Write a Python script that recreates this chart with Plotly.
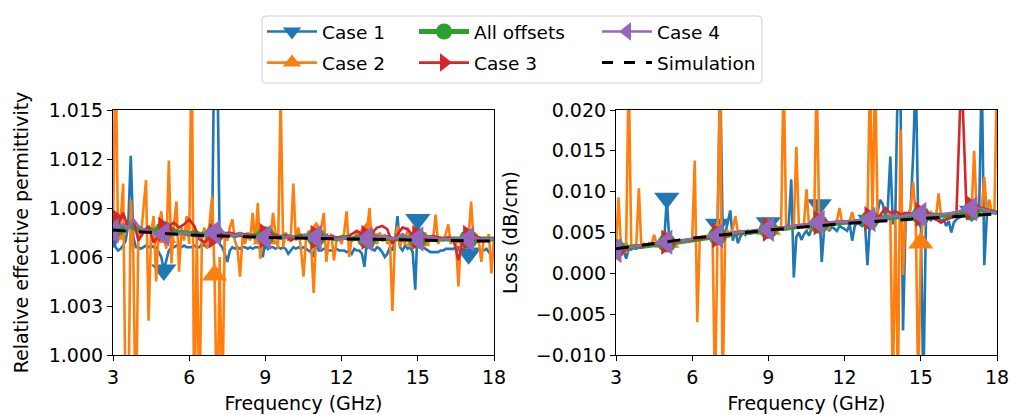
import numpy as np
import plotly.graph_objects as go

# ---------------- data ----------------
freq_fine = np.round(np.arange(30, 181) / 10.0, 1)      # 3.0 .. 18.0, step 0.1
freq_coarse = np.round(np.arange(15, 91) / 5.0, 1)      # 3.0 .. 18.0, step 0.2
sim_freq = [3, 6, 9, 12, 15, 18]

case1_eps = [
    1.0072, 1.0066, 1.0064, 1.0065, 1.0067, 1.0070, 1.0080, 1.0122, 1.0072, 1.0066,
    1.0066, 1.0065, 1.0066, 1.0067, 1.0066, 1.0067, 1.0066, 1.0066, 1.0063, 1.0060,
    1.0052, 1.0058, 1.0064, 1.0066, 1.0066, 1.0067, 1.0066, 1.0066, 1.0067, 1.0066,
    1.0066, 1.0066, 1.0067, 1.0066, 1.0066, 1.0068, 1.0067, 1.0066, 1.0067, 1.0070,
    1.0210, 1.0190, 1.0068, 1.0066, 1.0062, 1.0057, 1.0064, 1.0066, 1.0065, 1.0066,
    1.0065, 1.0066, 1.0066, 1.0065, 1.0066, 1.0065, 1.0066, 1.0066, 1.0065, 1.0060,
    1.0071, 1.0065, 1.0066, 1.0066, 1.0065, 1.0066, 1.0065, 1.0066, 1.0065, 1.0062,
    1.0064, 1.0066, 1.0065, 1.0066, 1.0065, 1.0066, 1.0065, 1.0064, 1.0063, 1.0060,
    1.0071, 1.0064, 1.0064, 1.0065, 1.0065, 1.0064, 1.0064, 1.0064, 1.0065, 1.0064,
    1.0064, 1.0064, 1.0063, 1.0064, 1.0062, 1.0065, 1.0064, 1.0064, 1.0062, 1.0054,
    1.0071, 1.0066, 1.0065, 1.0064, 1.0066, 1.0065, 1.0063, 1.0060, 1.0062, 1.0066,
    1.0064, 1.0070, 1.0085, 1.0066, 1.0064, 1.0067, 1.0065, 1.0066, 1.0063, 1.0040,
    1.0083, 1.0068, 1.0066, 1.0065, 1.0064, 1.0063, 1.0063, 1.0063, 1.0063, 1.0064,
    1.0064, 1.0065, 1.0065, 1.0065, 1.0065, 1.0066, 1.0066, 1.0065, 1.0064, 1.0063,
    1.0062, 1.0064, 1.0065, 1.0065, 1.0065, 1.0064, 1.0064, 1.0065, 1.0063, 1.0061,
    1.0060,
]

case2_eps = [
    1.0074, 1.0190, 1.0070, 1.0082, 1.0105, 0.9960, 0.9955, 1.0095, 1.0062, 0.9950,
    1.0078, 1.0072, 1.0090, 1.0107, 1.0021, 1.0075, 1.0085, 1.0045, 1.0077, 1.0088,
    1.0072, 1.0065, 1.0119, 1.0056, 1.0080, 1.0094, 1.0051, 1.0078, 1.0070, 1.0085,
    1.0068, 1.0200, 0.9950, 1.0075, 0.9960, 1.0072, 1.0078, 1.0065, 1.0080, 1.0097,
    1.0049, 0.9950, 1.0060, 0.9960, 1.0075, 1.0070, 1.0078, 1.0083, 1.0070, 1.0065,
    1.0048, 1.0072, 1.0068, 1.0075, 1.0070, 1.0087, 1.0068, 1.0093, 1.0059, 1.0072,
    1.0071, 1.0075, 1.0070, 1.0087, 1.0074, 1.0065, 1.0160, 1.0066, 1.0075, 1.0070,
    1.0072, 1.0105, 1.0070, 1.0078, 1.0065, 1.0048, 1.0072, 1.0076, 1.0068, 1.0038,
    1.0075, 1.0070, 1.0078, 1.0087, 1.0057, 1.0072, 1.0074, 1.0058, 1.0070, 1.0072,
    1.0068, 1.0075, 1.0088, 1.0060, 1.0072, 1.0070, 1.0076, 1.0068, 1.0072, 1.0075,
    1.0075, 1.0090, 1.0065, 1.0072, 1.0068, 1.0075, 1.0070, 1.0074, 1.0068, 1.0072,
    1.0027, 1.0070, 1.0079, 1.0066, 1.0072, 1.0068, 1.0078, 1.0066, 1.0072, 1.0068,
    1.0070, 1.0074, 1.0066, 1.0075, 1.0068, 1.0072, 1.0070, 1.0086, 1.0068, 1.0072,
    1.0070, 1.0074, 1.0080, 1.0068, 1.0072, 1.0070, 1.0042, 1.0072, 1.0070, 1.0075,
    1.0072, 1.0094, 1.0068, 1.0074, 1.0070, 1.0057, 1.0072, 1.0070, 1.0074, 1.0050,
    1.0072,
]

all_eps = [
    1.0077, 1.0079, 1.0078, 1.0080, 1.0078, 1.0077, 1.0076, 1.0077, 1.0076, 1.0076,
    1.0076, 1.0077, 1.0076, 1.0075, 1.0075, 1.0074, 1.0075, 1.0074, 1.0074, 1.0074,
    1.0074, 1.0075, 1.0074, 1.0074, 1.0073, 1.0074, 1.0073, 1.0073, 1.0073, 1.0073,
    1.0073, 1.0073, 1.0073, 1.0072, 1.0073, 1.0072, 1.0072, 1.0073, 1.0072, 1.0072,
    1.0072, 1.0072, 1.0072, 1.0072, 1.0071, 1.0072, 1.0072, 1.0071, 1.0072, 1.0071,
    1.0071, 1.0072, 1.0072, 1.0071, 1.0072, 1.0071, 1.0071, 1.0072, 1.0071, 1.0071,
    1.0071, 1.0071, 1.0072, 1.0071, 1.0071, 1.0071, 1.0071, 1.0071, 1.0071, 1.0071,
    1.0071, 1.0071, 1.0071, 1.0071, 1.0071, 1.0071,
]

case3_eps = [
    1.0084, 1.0080, 1.0087, 1.0078, 1.0083, 1.0070, 1.0075, 1.0079, 1.0069, 1.0073,
    1.0077, 1.0079, 1.0081, 1.0078, 1.0080, 1.0083, 1.0079, 1.0071, 1.0069, 1.0072,
    1.0073, 1.0076, 1.0074, 1.0075, 1.0074, 1.0073, 1.0074, 1.0073, 1.0073, 1.0072,
    1.0073, 1.0074, 1.0073, 1.0072, 1.0073, 1.0070, 1.0072, 1.0073, 1.0072, 1.0073,
    1.0072, 1.0073, 1.0072, 1.0073, 1.0072, 1.0071, 1.0072, 1.0074, 1.0076, 1.0074,
    1.0072, 1.0075, 1.0078, 1.0079, 1.0077, 1.0068, 1.0074, 1.0078, 1.0077, 1.0073,
    1.0072, 1.0073, 1.0072, 1.0073, 1.0072, 1.0071, 1.0072, 1.0071, 1.0058, 1.0072,
    1.0072, 1.0073, 1.0072, 1.0071, 1.0071, 1.0071,
]

case4_eps = [
    1.0076, 1.0079, 1.0080, 1.0078, 1.0083, 1.0079, 1.0077, 1.0076, 1.0075, 1.0074,
    1.0074, 1.0075, 1.0074, 1.0074, 1.0075, 1.0074, 1.0073, 1.0072, 1.0073, 1.0074,
    1.0075, 1.0077, 1.0074, 1.0074, 1.0073, 1.0074, 1.0073, 1.0073, 1.0072, 1.0072,
    1.0072, 1.0073, 1.0072, 1.0073, 1.0072, 1.0073, 1.0072, 1.0072, 1.0073, 1.0072,
    1.0072, 1.0072, 1.0073, 1.0072, 1.0071, 1.0071, 1.0072, 1.0071, 1.0072, 1.0071,
    1.0071, 1.0073, 1.0072, 1.0073, 1.0072, 1.0071, 1.0072, 1.0074, 1.0072, 1.0071,
    1.0071, 1.0073, 1.0072, 1.0072, 1.0071, 1.0071, 1.0071, 1.0071, 1.0071, 1.0071,
    1.0071, 1.0072, 1.0071, 1.0071, 1.0071, 1.0071,
]

sim_eps = [1.00765, 1.00735, 1.00720, 1.00710, 1.00703, 1.00697]

case1_loss = [
    0.0030, 0.0028, 0.0022, 0.0028, 0.0018, 0.0030, 0.0029, 0.0031, 0.0030, 0.0032,
    0.0032, 0.0033, 0.0034, 0.0034, 0.0035, 0.0035, 0.0036, 0.0036, 0.0037, 0.0040,
    0.0092, 0.0040, 0.0037, 0.0038, 0.0039, 0.0038, 0.0039, 0.0039, 0.0040, 0.0040,
    0.0041, 0.0042, 0.0042, 0.0043, 0.0043, 0.0044, 0.0044, 0.0045, 0.0046, 0.0050,
    0.0060, 0.0250, 0.0050, 0.0048, 0.0065, 0.0077, 0.0040, 0.0052, 0.0037, 0.0045,
    0.0050, 0.0047, 0.0052, 0.0049, 0.0051, 0.0050, 0.0052, 0.0051, 0.0050, 0.0052,
    0.0062, 0.0054, 0.0052, 0.0055, 0.0053, 0.0055, 0.0054, 0.0058, 0.0060, 0.0115,
    -0.0005, 0.0045, 0.0050, 0.0041, 0.0048, 0.0052, 0.0046, 0.0055, 0.0060, 0.0058,
    0.0084, 0.0014, 0.0056, 0.0058, 0.0052, 0.0057, 0.0055, 0.0052, 0.0058, 0.0056,
    0.0055, 0.0052, 0.0060, 0.0040, 0.0058, 0.0062, 0.0060, 0.0058, 0.0062, 0.0010,
    0.0065, 0.0062, 0.0068, 0.0075, 0.0090, 0.0085, 0.0070, 0.0080, 0.0143, 0.0060,
    0.0075, 0.0250, 0.0220, -0.0070, 0.0062, 0.0070, 0.0080, 0.0145, 0.0250, 0.0060,
    0.0068, -0.0150, 0.0062, 0.0068, 0.0065, 0.0070, 0.0066, 0.0068, 0.0064, 0.0066,
    0.0058, 0.0064, 0.0050, 0.0062, 0.0066, 0.0068, 0.0070, 0.0072, 0.0074, 0.0075,
    0.0076, 0.0078, 0.0076, 0.0080, 0.0250, 0.0010, 0.0070, 0.0074, 0.0076, 0.0075,
    0.0074,
]

case2_loss = [
    0.0032, 0.0093, 0.0030, 0.0032, 0.0036, 0.0250, 0.0034, 0.0033, 0.0036, 0.0104,
    0.0030, 0.0036, 0.0034, 0.0037, 0.0035, 0.0047, 0.0036, 0.0038, 0.0040, 0.0037,
    0.0038, 0.0042, 0.0036, 0.0040, 0.0038, 0.0041, 0.0039, 0.0040, 0.0041, 0.0040,
    0.0042, 0.0138, -0.0060, 0.0043, 0.0045, 0.0044, 0.0046, 0.0045, 0.0047, -0.0150,
    0.0050, 0.0250, -0.0150, 0.0050, 0.0052, 0.0048, 0.0055, 0.0070, 0.0050, 0.0052,
    0.0050, 0.0052, 0.0051, 0.0050, 0.0052, 0.0053, 0.0051, 0.0052, 0.0053, 0.0052,
    0.0054, 0.0053, 0.0055, 0.0054, 0.0055, 0.0056, 0.0250, 0.0056, 0.0055, 0.0057,
    0.0056, 0.0155, 0.0058, 0.0057, 0.0060, 0.0103, 0.0058, 0.0060, 0.0059, 0.0250,
    0.0060, 0.0062, 0.0061, 0.0060, 0.0062, 0.0063, 0.0062, 0.0065, 0.0080, 0.0062,
    0.0063, 0.0062, 0.0064, 0.0075, 0.0062, 0.0064, 0.0063, 0.0065, 0.0064, 0.0066,
    0.0250, 0.0065, 0.0250, 0.0068, 0.0066, 0.0070, 0.0068, 0.0072, 0.0070, -0.0150,
    0.0070, -0.0150, 0.0176, -0.0002, 0.0072, 0.0065, 0.0080, 0.0112, 0.0070, -0.0150,
    0.0037, 0.0070, 0.0072, 0.0068, 0.0075, 0.0072, 0.0070, 0.0098, 0.0070, 0.0072,
    0.0068, 0.0072, 0.0070, 0.0074, 0.0072, 0.0070, 0.0073, 0.0075, 0.0074, 0.0078,
    0.0076, 0.0150, 0.0077, 0.0076, 0.0078, 0.0118, 0.0075, 0.0090, 0.0074, 0.0076,
    0.0250,
]

all_loss = [
    0.0030, 0.0031, 0.0032, 0.0032, 0.0033, 0.0033, 0.0034, 0.0035, 0.0035, 0.0036,
    0.0037, 0.0038, 0.0038, 0.0039, 0.0040, 0.0041, 0.0042, 0.0043, 0.0044, 0.0045,
    0.0046, 0.0046, 0.0047, 0.0048, 0.0049, 0.0050, 0.0050, 0.0051, 0.0052, 0.0053,
    0.0054, 0.0054, 0.0055, 0.0055, 0.0056, 0.0057, 0.0058, 0.0058, 0.0059, 0.0060,
    0.0060, 0.0060, 0.0061, 0.0061, 0.0062, 0.0062, 0.0062, 0.0063, 0.0064, 0.0065,
    0.0066, 0.0066, 0.0067, 0.0068, 0.0068, 0.0069, 0.0069, 0.0070, 0.0071, 0.0071,
    0.0071, 0.0071, 0.0071, 0.0070, 0.0070, 0.0070, 0.0071, 0.0072, 0.0074, 0.0075,
    0.0076, 0.0077, 0.0078, 0.0077, 0.0075, 0.0074,
]

case3_loss = [
    0.0028, 0.0030, 0.0031, 0.0032, 0.0033, 0.0033, 0.0034, 0.0035, 0.0036, 0.0036,
    0.0038, 0.0038, 0.0039, 0.0040, 0.0041, 0.0041, 0.0042, 0.0043, 0.0044, 0.0045,
    0.0046, 0.0047, 0.0047, 0.0048, 0.0049, 0.0050, 0.0051, 0.0051, 0.0052, 0.0053,
    0.0054, 0.0054, 0.0055, 0.0056, 0.0057, 0.0057, 0.0058, 0.0059, 0.0060, 0.0061,
    0.0062, 0.0061, 0.0062, 0.0062, 0.0063, 0.0063, 0.0063, 0.0064, 0.0065, 0.0066,
    0.0067, 0.0068, 0.0071, 0.0080, 0.0074, 0.0076, 0.0072, 0.0074, 0.0073, 0.0072,
    0.0072, 0.0070, 0.0068, 0.0066, 0.0062, 0.0066, 0.0068, 0.0070, 0.0250, 0.0078,
    0.0080, 0.0079, 0.0080, 0.0078, 0.0076, 0.0074,
]

case4_loss = [
    0.0028, 0.0029, 0.0031, 0.0032, 0.0033, 0.0034, 0.0034, 0.0035, 0.0036, 0.0037,
    0.0038, 0.0039, 0.0039, 0.0040, 0.0041, 0.0042, 0.0043, 0.0044, 0.0045, 0.0046,
    0.0046, 0.0047, 0.0048, 0.0049, 0.0050, 0.0051, 0.0051, 0.0052, 0.0053, 0.0054,
    0.0054, 0.0055, 0.0056, 0.0056, 0.0057, 0.0058, 0.0059, 0.0059, 0.0060, 0.0061,
    0.0062, 0.0062, 0.0062, 0.0063, 0.0063, 0.0063, 0.0064, 0.0064, 0.0065, 0.0066,
    0.0066, 0.0067, 0.0068, 0.0068, 0.0069, 0.0070, 0.0070, 0.0071, 0.0072, 0.0072,
    0.0072, 0.0071, 0.0071, 0.0071, 0.0072, 0.0073, 0.0074, 0.0075, 0.0077, 0.0078,
    0.0079, 0.0080, 0.0079, 0.0077, 0.0075, 0.0073,
]

sim_loss = [0.0030, 0.0043, 0.0053, 0.0061, 0.0067, 0.00727]

eps_ticks = [1.000, 1.003, 1.006, 1.009, 1.012, 1.015]
loss_ticks = [-0.010, -0.005, 0.000, 0.005, 0.010, 0.015, 0.020]
freq_ticks = [3, 6, 9, 12, 15, 18]

for arr in (case1_eps, case2_eps, case1_loss, case2_loss):
    assert len(arr) == len(freq_fine), len(arr)
for arr in (all_eps, case3_eps, case4_eps, all_loss, case3_loss, case4_loss):
    assert len(arr) == len(freq_coarse), len(arr)

# ---------------- styling ----------------
W, H = 1021, 415
FONT = "DejaVu Sans"
C_BLUE, C_ORANGE, C_GREEN, C_RED, C_PURPLE = "#1f77b4", "#ff7f0e", "#2ca02c", "#d62728", "#9467bd"

series = [
    # name, color, symbol, marker size, line width, legend, grid, eps, loss, markevery
    ("Case 1", C_BLUE, "triangle-down", 22, 2.6, "legend", freq_fine, case1_eps, case1_loss, 20),
    ("Case 2", C_ORANGE, "triangle-up", 22, 2.6, "legend", freq_fine, case2_eps, case2_loss, 20),
    ("All offsets", C_GREEN, "circle", 19, 5.0, "legend2", freq_coarse, all_eps, all_loss, 10),
    ("Case 3", C_RED, "triangle-right", 22, 2.6, "legend2", freq_coarse, case3_eps, case3_loss, 10),
    ("Case 4", C_PURPLE, "triangle-left", 22, 2.6, "legend3", freq_coarse, case4_eps, case4_loss, 10),
]

fig = go.Figure()
for k, (name, col, sym, msz, lw, leg, fx, ye, yl, every) in enumerate(series):
    fx = np.asarray(fx)
    for ax_x, ax_y, yy in (("x", "y", ye), ("x2", "y2", yl)):
        yy = np.asarray(yy)
        fig.add_trace(go.Scatter(x=fx, y=yy, mode="lines", xaxis=ax_x, yaxis=ax_y,
                                 line=dict(color=col, width=lw), showlegend=False,
                                 hoverinfo="skip"))
        fig.add_trace(go.Scatter(x=fx[::every], y=yy[::every], mode="markers",
                                 xaxis=ax_x, yaxis=ax_y,
                                 marker=dict(color=col, symbol=sym, size=msz, line=dict(width=0)),
                                 showlegend=False, hoverinfo="skip"))
    # legend entry
    fig.add_trace(go.Scatter(x=[None], y=[None], mode="lines+markers", name=name,
                             line=dict(color=col, width=lw), legendgroup=f"g{k}",
                             marker=dict(color=col, symbol=sym, size=16),
                             legend=leg, showlegend=True))

for ax_x, ax_y, yy in (("x", "y", sim_eps), ("x2", "y2", sim_loss)):
    fig.add_trace(go.Scatter(x=sim_freq, y=yy, mode="lines", xaxis=ax_x, yaxis=ax_y,
                             line=dict(color="black", width=3, dash="13px,13px"),
                             showlegend=False, hoverinfo="skip"))
fig.add_trace(go.Scatter(x=[None], y=[None], mode="lines", name="Simulation",
                         line=dict(color="black", width=3, dash="11px,11px"),
                         legend="legend3", legendgroup="g9", showlegend=True))

# ---------------- layout ----------------
def px_x(p):
    return p / W

def px_y(p):
    return 1 - p / H

plot_top, plot_bot = 110, 355
left_dom = [px_x(113), px_x(494)]
right_dom = [px_x(616), px_x(997)]
y_dom = [px_y(plot_bot), px_y(plot_top)]

axis_common = dict(showline=True, linecolor="black", linewidth=1.2, mirror=True,
                   ticks="outside", ticklen=5, tickwidth=1.2, tickcolor="black",
                   showgrid=False, zeroline=False, automargin=False,
                   tickfont=dict(family=FONT, size=19, color="black"))

fig.update_layout(
    width=W, height=H,
    margin=dict(l=0, r=0, t=0, b=0, autoexpand=False),
    paper_bgcolor="white", plot_bgcolor="white",
    font=dict(family=FONT, size=19, color="black"),
    xaxis=dict(domain=left_dom, anchor="y", range=[3, 18], tickvals=freq_ticks,
               title=dict(text="Frequency (GHz)", standoff=9, font=dict(size=19)), **axis_common),
    yaxis=dict(domain=y_dom, anchor="x", range=[1.0, 1.015], tickvals=eps_ticks, tickformat=".3f",
               title=dict(text="Relative effective permittivity", standoff=15, font=dict(size=19)),
               **axis_common),
    xaxis2=dict(domain=right_dom, anchor="y2", range=[3, 18], tickvals=freq_ticks,
                title=dict(text="Frequency (GHz)", standoff=9, font=dict(size=19)), **axis_common),
    yaxis2=dict(domain=y_dom, anchor="x2", range=[-0.010, 0.020], tickvals=loss_ticks,
                tickformat=".3f",
                title=dict(text="Loss (dB/cm)", standoff=13, font=dict(size=19)), **axis_common),
    showlegend=True,
)

leg_common = dict(orientation="v", xanchor="left", yanchor="top", bgcolor="rgba(0,0,0,0)",
                  borderwidth=0, font=dict(family=FONT, size=18.5, color="black"),
                  itemwidth=50, tracegroupgap=4, itemclick=False, itemdoubleclick=False)
fig.update_layout(
    legend=dict(x=px_x(262), y=px_y(13), **leg_common),
    legend2=dict(x=px_x(414), y=px_y(13), **leg_common),
    legend3=dict(x=px_x(597), y=px_y(13), **leg_common),
)

# rounded legend frame
x0, x1 = px_x(262), px_x(762)
y0, y1 = px_y(83), px_y(16)
rx, ry = 4 / W, 4 / H
path = (f"M{x0 + rx},{y1} L{x1 - rx},{y1} Q{x1},{y1} {x1},{y1 - ry} "
        f"L{x1},{y0 + ry} Q{x1},{y0} {x1 - rx},{y0} L{x0 + rx},{y0} "
        f"Q{x0},{y0} {x0},{y0 + ry} L{x0},{y1 - ry} Q{x0},{y1} {x0 + rx},{y1} Z")
fig.add_shape(type="path", path=path, xref="paper", yref="paper",
              line=dict(color="#d0d0d0", width=1), fillcolor="rgba(255,255,255,0.8)", layer="below")

fig.write_html("out.html")
